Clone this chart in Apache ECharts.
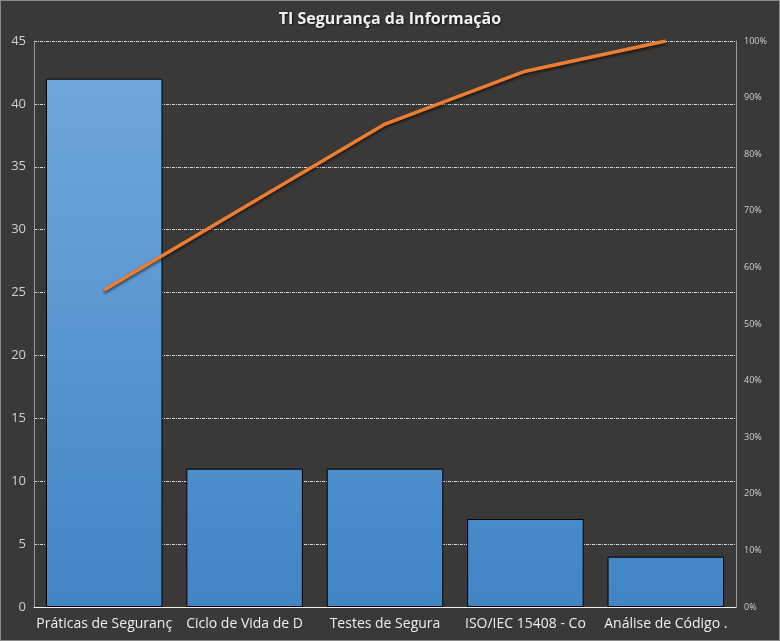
<!DOCTYPE html>
<html><head><meta charset="utf-8">
<script src="https://cdn.jsdelivr.net/npm/echarts@6/dist/echarts.min.js"></script>
<style>html,body{margin:0;padding:0;background:#3a3938;}#c{width:780px;height:641px;box-sizing:border-box;border:1px solid #8a8a8a;}</style>
</head><body><div id="c"></div>
<script>
const categories = ['Práticas de Seguranç','Ciclo de Vida de D','Testes de Segura','ISO/IEC 15408 - Co','Análise de Código .'];
const counts = [42, 11, 11, 7, 4];
const cumulativePct = [0.56, 0.7067, 0.8533, 0.9467, 1.0];
const leftTicks = [0, 45, 5];
const chart = echarts.init(document.getElementById('c'));
const font = 'Open Sans, Liberation Sans, sans-serif';
chart.setOption({
  backgroundColor: '#3a3938',
  animation: false,
  title: {text: 'TI Segurança da Informação', left: 'center', top: 5,
    textStyle: {color: '#f2f2f2', fontSize: 16, fontWeight: 'bold', fontFamily: font,
      textShadowColor: 'rgba(0,0,0,0.7)', textShadowBlur: 2, textShadowOffsetX: 1, textShadowOffsetY: 1}},
  grid: {left: 33, right: 43, top: 40, bottom: 33},
  xAxis: {type: 'category', data: categories,
    axisLine: {lineStyle: {color: '#f0f0f0', width: 1}}, axisTick: {show: false},
    axisLabel: {color: '#eeeeee', fontSize: 14, fontFamily: font, margin: 10, interval: 0}},
  yAxis: [
    {type: 'value', min: leftTicks[0], max: leftTicks[1], interval: leftTicks[2],
     axisLine: {show: true, lineStyle: {color: '#9a9a9a'}}, axisTick: {show: false},
     axisLabel: {color: '#d0d0d0', fontSize: 13, fontFamily: font, margin: 8},
     splitLine: {lineStyle: {color: '#d8d8d8', type: [3, 1, 1, 1], width: 1}}},
    {type: 'value', min: 0, max: 1, interval: 0.1,
     axisLine: {show: true, lineStyle: {color: '#9a9a9a'}}, axisTick: {show: false},
     axisLabel: {color: '#d0d0d0', fontSize: 9, fontFamily: font, margin: 8,
       formatter: v => Math.round(v * 100) + '%'},
     splitLine: {show: false}}
  ],
  series: [
    {type: 'bar', data: counts, barCategoryGap: '17%',
     itemStyle: {borderColor: '#000', borderWidth: 1,
       color: new echarts.graphic.LinearGradient(0, 41, 0, 607, [
         {offset: 0, color: '#73a9de'}, {offset: 1, color: '#4185c5'}], true)}},
    {type: 'line', yAxisIndex: 1, data: cumulativePct, symbol: 'none',
     lineStyle: {color: '#ed7d31', width: 3.5, shadowColor: 'rgba(0,0,0,0.6)', shadowBlur: 3, shadowOffsetY: 2}}
  ]
});
</script></body></html>
